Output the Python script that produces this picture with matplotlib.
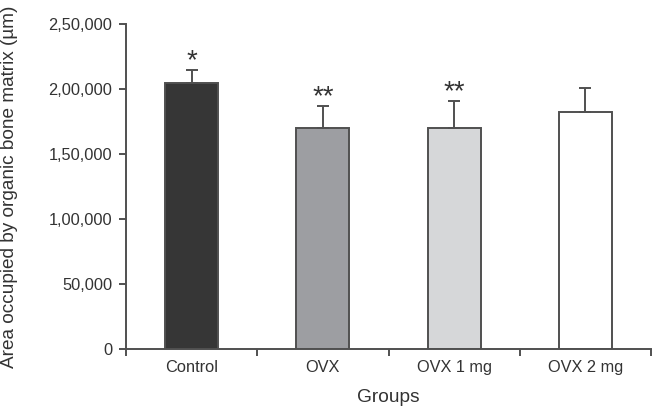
import matplotlib
matplotlib.use("Agg")
import matplotlib.pyplot as plt
from matplotlib.ticker import FuncFormatter, FixedLocator
import numpy as np

groups = ["Control", "OVX", "OVX 1 mg", "OVX 2 mg"]
means = [205000, 170000, 170000, 182500]
errors = [10000, 17000, 21000, 18000]
signif = ["*", "**", "**", ""]
bar_colors = ["#363636", "#9d9ea2", "#d6d7d9", "#ffffff"]

plt.rcParams['font.family'] = ['Liberation Sans', 'DejaVu Sans']
text_col = '#333333'
edge_col = '#505050'


def indian_fmt(v, pos):
    # 250000 -> 2,50,000
    s = str(int(round(v)))
    if len(s) <= 3:
        return s
    last3 = s[-3:]
    rest = s[:-3]
    parts = []
    while len(rest) > 2:
        parts.insert(0, rest[-2:])
        rest = rest[:-2]
    if rest:
        parts.insert(0, rest)
    return ",".join(parts + [last3])


def main():
    fig = plt.figure(figsize=(6.52, 4.08), dpi=100)
    ax = fig.add_axes([126 / 652, 1 - 349.3 / 408, (651 - 126) / 652, (349.3 - 24) / 408])

    x = np.arange(len(groups))
    ax.bar(x, means, width=0.405, color=bar_colors, edgecolor=edge_col, linewidth=1.4, zorder=2)
    ax.errorbar(x, means, yerr=[np.zeros(len(errors)), errors], fmt='none',
                ecolor=edge_col, elinewidth=1.4, capsize=4.5, capthick=1.4, zorder=3)

    for i, s in enumerate(signif):
        if s:
            ax.annotate(s, xy=(x[i], means[i] + errors[i]), xytext=(0, 1),
                        textcoords='offset points', ha='center', va='baseline',
                        fontsize=20, color=text_col)

    ax.set_xlim(-0.5, len(groups) - 0.5)
    ax.set_ylim(0, 250000)
    ax.set_yticks(np.arange(0, 250001, 50000))
    ax.yaxis.set_major_formatter(FuncFormatter(indian_fmt))

    # category labels centred, ticks on category boundaries
    ax.set_xticks(x)
    ax.set_xticklabels(groups)
    ax.tick_params(axis='x', which='major', length=0, pad=8)
    ax.xaxis.set_minor_locator(FixedLocator(np.arange(-0.5, len(groups), 1.0)))
    ax.tick_params(axis='x', which='minor', length=5, width=1.4, color=edge_col)
    ax.tick_params(axis='y', length=5, width=1.4, color=edge_col, pad=5)
    ax.tick_params(labelsize=11.8, labelcolor=text_col)

    for side in ['top', 'right']:
        ax.spines[side].set_visible(False)
    for side in ['left', 'bottom']:
        ax.spines[side].set_color(edge_col)
        ax.spines[side].set_linewidth(1.4)

    ax.set_xlabel("Groups", fontsize=13.8, color=text_col, labelpad=10)
    ax.set_ylabel("Area occupied by organic bone matrix (\u00b5m)", fontsize=13.7,
                  color=text_col)
    ax.yaxis.set_label_coords(-0.206, 0.5)

    fig.savefig("out.png", dpi=100)


if __name__ == "__main__":
    main()
